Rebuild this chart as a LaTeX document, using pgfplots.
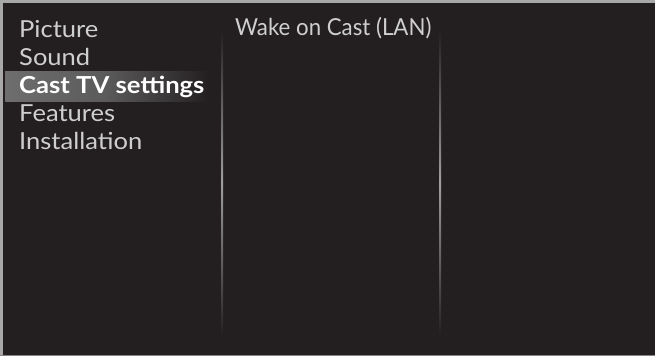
\documentclass[border=0pt]{standalone}
\usepackage{pgfplots}
\pgfplotsset{compat=1.18}
\usepackage{fontspec}
\setmainfont{Lato}
\newfontfamily\menufont[FakeStretch=1.09]{Lato}
\newfontfamily\menubold[FakeStretch=1.095]{Lato Bold}
\newfontfamily\subfont[FakeStretch=0.95]{Lato}
\definecolor{bg}{HTML}{231F20}
\definecolor{frame}{HTML}{A8A8A8}
\definecolor{txt}{HTML}{CFCFCF}
\definecolor{hil}{HTML}{6E6E6E}
\definecolor{sepl}{HTML}{A0A0A0}
\begin{document}
\begin{tikzpicture}
\begin{axis}[
  scale only axis, width=655bp, height=356bp,
  xmin=0, xmax=655, ymin=0, ymax=356, y dir=reverse,
  hide axis, clip=false]
% background
\addplot[draw=none, fill=bg] coordinates {(0,0) (655,0) (655,356) (0,356)} -- cycle;
% frame
\addplot[draw=none, fill=frame] coordinates {(0,0) (655,0) (655,3) (0,3)} -- cycle;
\addplot[draw=none, fill=frame] coordinates {(0,0) (3,0) (3,356) (0,356)} -- cycle;
\addplot[draw=none, fill=frame!80!black] coordinates {(0,354.5) (655,354.5) (655,356) (0,356)} -- cycle;
% highlight bar
\addplot[draw=none, left color=hil, right color=bg, middle color=hil!75!bg] coordinates {(5,71) (208,71) (208,101) (5,101)} -- cycle;
% separators
\addplot[draw=none, top color=bg, bottom color=bg, middle color=sepl] coordinates {(221,30) (223,30) (223,336) (221,336)} -- cycle;
\addplot[draw=none, top color=bg, bottom color=bg, middle color=sepl] coordinates {(439,30) (441,30) (441,336) (439,336)} -- cycle;
% texts
\node[anchor=base west, inner sep=0, text=txt, font=\menufont\fontsize{23.5}{28}\selectfont] at (axis cs:19,37) {Picture};
\node[anchor=base west, inner sep=0, text=txt, font=\menufont\fontsize{23.5}{28}\selectfont] at (axis cs:19,65) {Sound};
\node[anchor=base west, inner sep=0, text=white, font=\menubold\fontsize{23.5}{28}\selectfont] at (axis cs:19,93) {Cast TV settings};
\node[anchor=base west, inner sep=0, text=txt, font=\menufont\fontsize{23.5}{28}\selectfont] at (axis cs:19,121) {Features};
\node[anchor=base west, inner sep=0, text=txt, font=\menufont\fontsize{23.5}{28}\selectfont] at (axis cs:19,149) {Installation};
\node[anchor=base west, inner sep=0, text=txt, font=\subfont\fontsize{23.5}{28}\selectfont] at (axis cs:235,35) {Wake on Cast (LAN)};
\end{axis}
\end{tikzpicture}
\end{document}
